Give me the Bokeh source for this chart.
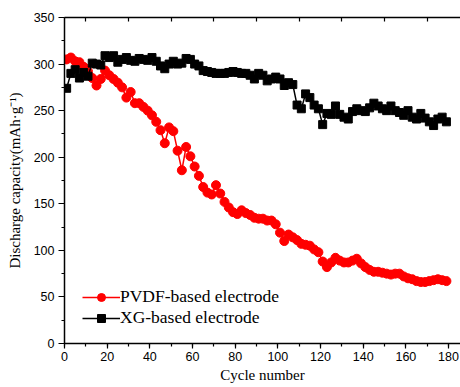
from bokeh.plotting import figure
from bokeh.models import LinearAxis, SingleIntervalTicker, FixedTicker, Range1d, Legend, LegendItem
from bokeh.embed import file_html
from bokeh.resources import INLINE

cycles = list(range(1, 181, 2))
pvdf = [305, 307, 303, 302, 297, 292, 285, 277, 284, 293,
        288, 284, 280, 275, 264, 270, 258, 258, 254, 250,
        245, 238, 229, 215, 232, 228, 207, 186, 211, 201,
        190, 180, 168, 162, 160, 170, 161, 152, 146, 141,
        139, 143, 140, 138, 135, 134, 134, 132, 132, 128,
        119, 110, 117, 114, 111, 107, 106, 105, 101, 98,
        88, 82, 87, 92, 89, 87, 87, 89, 91, 86,
        82, 79, 77, 77, 76, 75, 74, 75, 75, 72,
        70, 69, 67, 66, 66, 67, 68, 69, 68, 67]
xg = [274, 290, 294, 285, 291, 287, 301, 300, 299, 309,
      307, 309, 302, 305, 307, 304, 303, 306, 305, 304,
      307, 303, 298, 295, 300, 303, 300, 301, 306, 305,
      300, 298, 293, 292, 291, 290, 290, 290, 291, 292,
      291, 290, 290, 288, 284, 290, 288, 282, 284, 286,
      284, 277, 280, 278, 256, 252, 268, 264, 256, 252,
      235, 247, 246, 255, 246, 243, 241, 249, 252, 250,
      249, 253, 258, 255, 252, 250, 255, 250, 248, 245,
      250, 243, 241, 247, 242, 238, 234, 241, 243, 238]
x_ticks_top = list(range(10, 180, 20))
series_names = ["PVDF-based electrode", "XG-based electrode"]

SERIF = "Liberation Serif"
SANS = "Liberation Sans"

p = figure(width=460, height=387, output_backend="svg", toolbar_location=None,
           x_range=Range1d(0, 185.6), y_range=Range1d(0, 350),
           x_axis_type=None, y_axis_type=None,
           min_border_left=64, min_border_right=0, min_border_top=17, min_border_bottom=44)
p.outline_line_color = None
p.grid.visible = False
p.background_fill_color = "white"

xaxis = LinearAxis(ticker=SingleIntervalTicker(interval=20, num_minor_ticks=2))
xaxis.axis_label = "Cycle number"
yaxis = LinearAxis(ticker=SingleIntervalTicker(interval=50, num_minor_ticks=2))
yaxis.axis_label = "Discharge capacity(mAh\u00b7g\u207b\u00b9)"
for ax in (xaxis, yaxis):
    ax.axis_line_width = 1.5
    ax.axis_line_color = "black"
    ax.major_tick_line_width = 1.2
    ax.minor_tick_line_width = 1.2
    ax.major_tick_in = 0
    ax.minor_tick_in = 0
    ax.major_tick_out = 6
    ax.minor_tick_out = 3
    ax.major_label_text_font = SANS
    ax.major_label_text_font_size = "12.5px"
    ax.major_label_text_color = "black"
    ax.axis_label_text_font = SERIF
    ax.axis_label_text_font_style = "normal"
    ax.axis_label_text_font_size = "15px"
    ax.axis_label_text_color = "black"
xaxis.major_tick_out = 5
xaxis.major_label_standoff = 3
xaxis.axis_label_standoff = 3
yaxis.major_label_standoff = 4
yaxis.axis_label_standoff = 8
p.add_layout(xaxis, "below")
p.add_layout(yaxis, "left")

top = LinearAxis(ticker=FixedTicker(ticks=x_ticks_top, minor_ticks=[]))
top.axis_line_width = 1.5
top.major_tick_in = 4
top.major_tick_out = 0
top.major_tick_line_width = 1.2
top.major_label_overrides = {t: "" for t in x_ticks_top}
top.major_label_standoff = 0
p.add_layout(top, "above")

r1l = p.line(cycles, pvdf, line_color="#ff0000", line_width=1.5)
r1m = p.scatter(cycles, pvdf, marker="circle", size=9, fill_color="#ff0000", line_color="#ff0000")
r2l = p.line(cycles, xg, line_color="black", line_width=1.5)
r2m = p.scatter(cycles, xg, marker="square", size=8, fill_color="black", line_color="black")

legend = Legend(items=[LegendItem(label=series_names[0], renderers=[r1l, r1m]),
                       LegendItem(label=series_names[1], renderers=[r2l, r2m])],
                location=(18, 15), glyph_width=38, glyph_height=20, label_height=20,
                label_standoff=0, padding=0, margin=0, spacing=0,
                border_line_color=None, background_fill_alpha=0,
                label_text_font=SERIF, label_text_font_size="17.5px", label_text_color="black")
p.add_layout(legend, "center")

open("out.html", "w").write(file_html(p, INLINE))
